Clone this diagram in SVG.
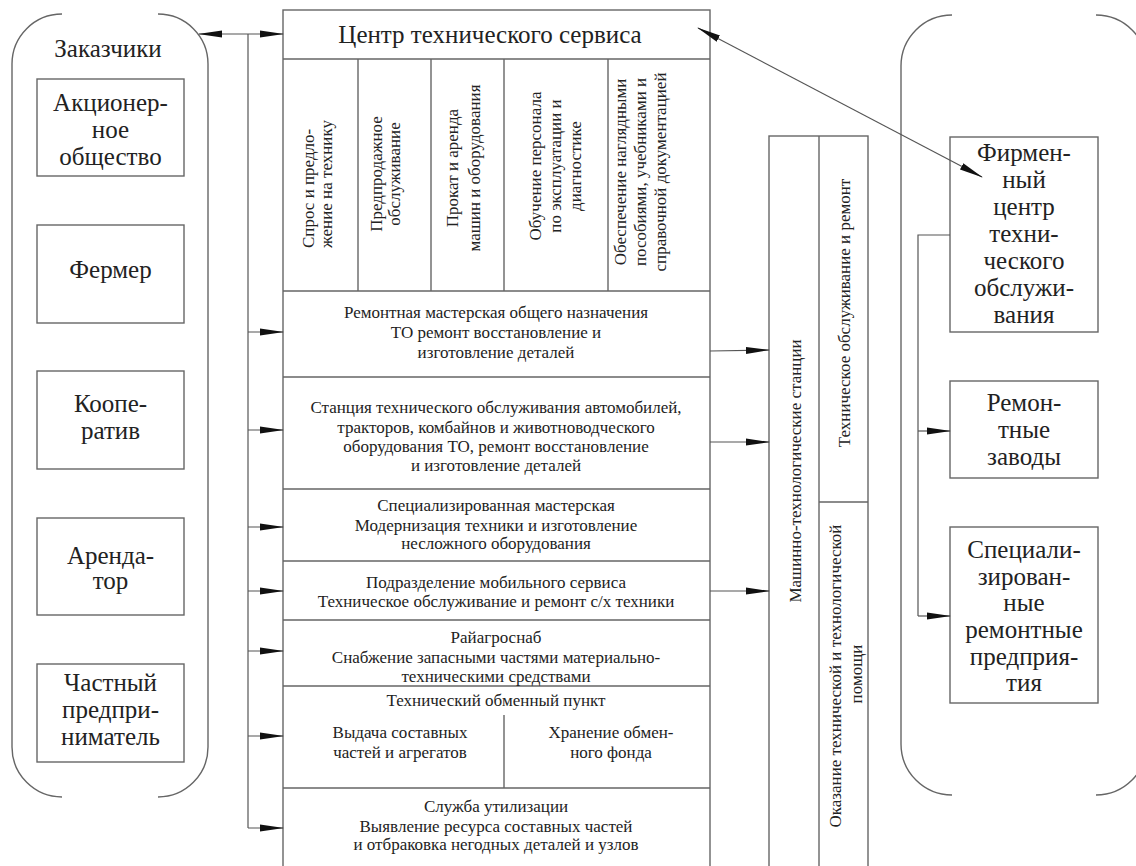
<svg xmlns="http://www.w3.org/2000/svg" width="1136" height="866" viewBox="0 0 1136 866" font-family="Liberation Serif, DejaVu Serif, Times New Roman, serif">
<defs>
<marker id="ah" markerUnits="userSpaceOnUse" markerWidth="24" markerHeight="8" refX="23" refY="3.5" orient="auto-start-reverse" viewBox="0 0 24 7">
<path d="M0,0 L24,3.5 L0,7 Z" fill="#111"/>
</marker>
</defs>
<style>
.ln{fill:none;stroke:#666;stroke-width:1.4}
.bx{fill:#fff;stroke:#666;stroke-width:1.4}
.cn{fill:none;stroke:#555;stroke-width:1.2}
.ar{fill:none;stroke:#555;stroke-width:1.2;marker-end:url(#ah)}
text{fill:#222;text-anchor:middle}
.big{font-size:25px}
.sm{font-size:17px}
.st{text-anchor:start}
</style>
<rect width="1136" height="866" fill="#fff"/>

<g id="customers">
<path class="ln" d="M62,14 A50,50 0 0 0 12,64 L12,747 A50,50 0 0 0 62,797 M158,14 A50,50 0 0 1 208,64 L208,747 A50,50 0 0 1 158,797"/>
<text class="big" x="108" y="57">Заказчики</text>
</g>
<g id="c1"><rect class="bx" x="37" y="79" width="147" height="97"/>
<text class="big"><tspan x="110.5" y="111">Акционер-</tspan><tspan x="110.5" y="138">ное</tspan><tspan x="110.5" y="165">общество</tspan></text></g>
<g id="c2"><rect class="bx" x="37" y="225" width="147" height="98"/>
<text class="big" x="110.5" y="278">Фермер</text></g>
<g id="c3"><rect class="bx" x="37" y="371" width="147" height="98"/>
<text class="big"><tspan x="110.5" y="412">Коопе-</tspan><tspan x="110.5" y="439">ратив</tspan></text></g>
<g id="c4"><rect class="bx" x="37" y="518" width="147" height="97"/>
<text class="big"><tspan x="110.5" y="564">Аренда-</tspan><tspan x="110.5" y="589">тор</tspan></text></g>
<g id="c5"><rect class="bx" x="37" y="664" width="147" height="98"/>
<text class="big"><tspan x="110.5" y="691">Частный</tspan><tspan x="110.5" y="718">предпри-</tspan><tspan x="110.5" y="745">ниматель</tspan></text></g>

<g id="center">
<rect class="bx" x="283" y="10" width="427" height="870"/>
<path class="ln" d="M283,59 H710 M358,59 V291 M431,59 V291 M504,59 V291 M608,59 V291 M283,291 H710 M283,377 H710 M283,489 H710 M283,561 H710 M283,620 H710 M283,686 H710 M283,788 H710 M504,715 V788"/>
<text class="big" x="490" y="43">Центр технического сервиса</text>
<text class="sm st" transform="rotate(-90 314 248)" x="314" y="248">Спрос и предло-</text>
<text class="sm st" transform="rotate(-90 332 248)" x="332" y="248">жение на технику</text>
<text class="sm" transform="rotate(-90 382 174)" x="382" y="174">Предпродажное</text>
<text class="sm" transform="rotate(-90 400 174)" x="400" y="174">обслуживание</text>
<text class="sm" transform="rotate(-90 458 168)" x="458" y="168">Прокат и аренда</text>
<text class="sm" transform="rotate(-90 480 168)" x="480" y="168">машин и оборудования</text>
<text class="sm" transform="rotate(-90 541 166)" x="541" y="166">Обучение персонала</text>
<text class="sm" transform="rotate(-90 561 166)" x="561" y="166">по эксплуатации и</text>
<text class="sm" transform="rotate(-90 581 166)" x="581" y="166">диагностике</text>
<text class="sm" transform="rotate(-90 626 172)" x="626" y="172">Обеспечение наглядными</text>
<text class="sm" transform="rotate(-90 646 172)" x="646" y="172">пособиями, учебниками и</text>
<text class="sm" transform="rotate(-90 666 172)" x="666" y="172">справочной документацией</text>
</g>
<g id="r1"><text class="sm"><tspan x="496" y="318">Ремонтная мастерская общего назначения</tspan><tspan x="496" y="338">ТО ремонт восстановление и</tspan><tspan x="496" y="358">изготовление деталей</tspan></text></g>
<g id="r2"><text class="sm"><tspan x="496" y="413">Станция технического обслуживания автомобилей,</tspan><tspan x="496" y="433">тракторов, комбайнов и животноводческого</tspan><tspan x="496" y="452">оборудования ТО, ремонт восстановление</tspan><tspan x="496" y="471">и изготовление деталей</tspan></text></g>
<g id="r3"><text class="sm"><tspan x="496" y="511">Специализированная мастерская</tspan><tspan x="496" y="531">Модернизация техники и изготовление</tspan><tspan x="496" y="549">несложного оборудования</tspan></text></g>
<g id="r4"><text class="sm"><tspan x="496" y="588">Подразделение мобильного сервиса</tspan><tspan x="496" y="607">Техническое обслуживание и ремонт с/х техники</tspan></text></g>
<g id="r5"><text class="sm"><tspan x="496" y="643">Райагроснаб</tspan><tspan x="496" y="663">Снабжение запасными частями материально-</tspan><tspan x="496" y="682">техническими средствами</tspan></text></g>
<g id="r6"><text class="sm"><tspan x="496" y="706">Технический обменный пункт</tspan><tspan x="400" y="738">Выдача составных</tspan><tspan x="400" y="758">частей и агрегатов</tspan><tspan x="611" y="738">Хранение обмен-</tspan><tspan x="611" y="758">ного фонда</tspan></text></g>
<g id="r7"><text class="sm"><tspan x="496" y="812">Служба утилизации</tspan><tspan x="496" y="832">Выявление ресурса составных частей</tspan><tspan x="496" y="850">и отбраковка негодных деталей и узлов</tspan></text></g>

<g id="mts">
<rect class="bx" x="769" y="136" width="99" height="760"/>
<path class="ln" d="M819,136 V880 M819,502 H868"/>
<text class="sm" transform="rotate(-90 801 471)" x="801" y="471">Машинно-технологические станции</text>
<text class="sm" transform="rotate(-90 850 313)" x="850" y="313">Техническое обслуживание и ремонт</text>
<text class="sm" transform="rotate(-90 841 676)" x="841" y="676">Оказание технической и технологической</text>
<text class="sm" transform="rotate(-90 862 674)" x="862" y="674">помощи</text>
</g>

<g id="partners">
<path class="ln" d="M952,15 A51,51 0 0 0 901,66 L901,744 A51,51 0 0 0 952,795 M1096,15 A51,51 0 0 1 1147,66 L1147,744 A51,51 0 0 1 1096,795"/>
</g>
<g id="p1"><rect class="bx" x="950" y="137" width="148" height="195"/>
<text class="big"><tspan x="1024" y="161">Фирмен-</tspan><tspan x="1024" y="188">ный</tspan><tspan x="1024" y="215">центр</tspan><tspan x="1024" y="242">техни-</tspan><tspan x="1024" y="269">ческого</tspan><tspan x="1024" y="296">обслужи-</tspan><tspan x="1024" y="323">вания</tspan></text></g>
<g id="p2"><rect class="bx" x="950" y="381" width="148" height="97"/>
<text class="big"><tspan x="1024" y="411">Ремон-</tspan><tspan x="1024" y="438">тные</tspan><tspan x="1024" y="465">заводы</tspan></text></g>
<g id="p3"><rect class="bx" x="950" y="527" width="148" height="176"/>
<text class="big"><tspan x="1024" y="558">Специали-</tspan><tspan x="1024" y="585">зирован-</tspan><tspan x="1024" y="611">ные</tspan><tspan x="1024" y="638">ремонтные</tspan><tspan x="1024" y="665">предприя-</tspan><tspan x="1024" y="691">тия</tspan></text></g>

<g id="connectors">
<path class="cn" d="M199,34 H283" style="marker-start:url(#ah);marker-end:url(#ah)"/>
<path class="cn" d="M248,34 V828"/>
<path class="ar" d="M248,332 H283"/>
<path class="ar" d="M248,430 H283"/>
<path class="ar" d="M248,527 H283"/>
<path class="ar" d="M248,591 H283"/>
<path class="ar" d="M248,651 H283"/>
<path class="ar" d="M248,736 H283"/>
<path class="ar" d="M248,828 H283"/>
<path class="ar" d="M710,351 L769,350"/>
<path class="ar" d="M710,442 H769"/>
<path class="ar" d="M710,591 H769"/>
<path class="cn" d="M698,28 L982,177" style="marker-start:url(#ah);marker-end:url(#ah)"/>
<path class="cn" d="M950,235 H918 V616"/>
<path class="ar" d="M918,431 H950"/>
<path class="ar" d="M918,616 H950"/>
</g>
</svg>
